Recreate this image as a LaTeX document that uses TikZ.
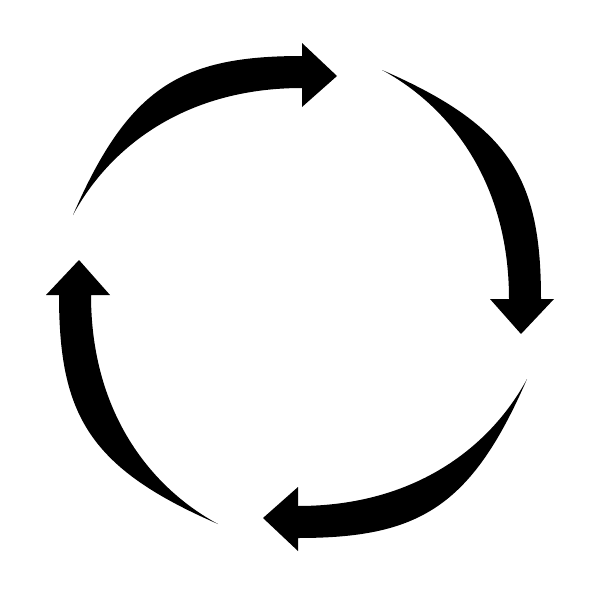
\documentclass[tikz,border=0pt]{standalone}
\usetikzlibrary{calc}

% one curved arrow of the cycle, in pixel units
\newcommand{\cyclearrowpath}{
    (73,215) .. controls (129,86) and (182,56) .. (302,56)
    -- (302,43) -- (337,76) -- (302,107) -- (302,88)
    .. controls (182,88) and (108,150) .. (73,215)
    -- cycle
}

\begin{document}
\begin{tikzpicture}[
    x=0.01cm, y=-0.01cm,
    blade/.style={fill=black, draw=none, rotate around={#1:(hub)}},
    blade/.default={0},
    ]
    \fill[white] (0,0) rectangle (600,600);
    \useasboundingbox (0,0) rectangle (600,600);
    \coordinate (hub) at (300,297);

    %% four arrows, clockwise
    \fill[blade=0]    \cyclearrowpath; % top
    \fill[blade=-90]  \cyclearrowpath; % right
    \fill[blade=-180] \cyclearrowpath; % bottom
    \fill[blade=-270] \cyclearrowpath; % left

\end{tikzpicture}
\end{document}
